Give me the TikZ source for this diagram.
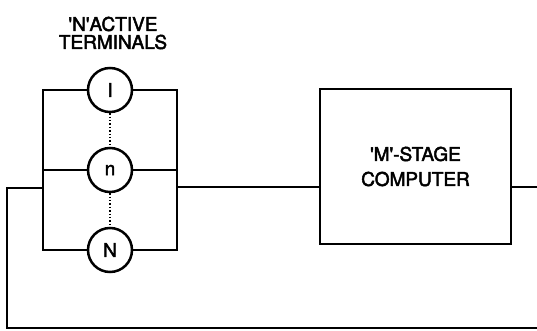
\documentclass[tikz,border=0pt]{standalone}
\usepackage{fontspec}
\setmainfont{TeX Gyre Heros}
\newfontfamily\medfont{TeX Gyre Heros}[FakeBold=2.5]
\newcommand{\sq}{\textquotesingle}
\begin{document}
\begin{tikzpicture}[x=1pt,y=-1pt,
  wire/.style={line width=2.5pt},
  term/.style={draw,circle,line width=2.5pt,minimum size=44pt,inner sep=0pt,font=\medfont\fontsize{19}{19}\selectfont},
  comp/.style={draw,rectangle,line width=2.5pt,minimum width=191pt,minimum height=155pt,align=center,font=\medfont\fontsize{19}{25}\selectfont},
  lbl/.style={align=center,font=\medfont\fontsize{19}{18}\selectfont}]
\useasboundingbox (0,0) rectangle (537,331);
\node[lbl] (title) at (113,33) {\sq N\sq ACTIVE\\TERMINALS};
\node[term] (c1) at (110,90) {I};
\node[term] (cn) at (110,170) {n};
\node[term] (cN) at (110,250) {N};
\node[comp] (box) at (415.5,166.5) {\sq M\sq-STAGE\\COMPUTER};
\coordinate (lt) at (43,90);
\coordinate (lm) at (43,170);
\coordinate (lb) at (43,250);
\coordinate (lj) at (43,188);
\coordinate (rt) at (177,90);
\coordinate (rm) at (177,170);
\coordinate (rb) at (177,250);
\coordinate (rj) at (177,187);
\coordinate (fb1) at (7,188);
\coordinate (fb2) at (7,328);
\coordinate (fb3) at (537,328);
\coordinate (out) at (537,187);
\draw[wire] (c1.west) -- (lt) -- (lb) -- (cN.west);
\draw[wire] (cn.west) -- (lm);
\draw[wire] (c1.east) -- (rt) -- (rb) -- (cN.east);
\draw[wire] (cn.east) -- (rm);
\draw[wire] (rj) -- (rj -| box.west);
\draw[wire] (box.east |- out) -- (out);
\draw[wire] (lj) -- (fb1) -- (fb2) -- (fb3);
\draw[line width=1.4pt,dotted] (c1.south) -- (cn.north);
\draw[line width=1.4pt,dotted] (cn.south) -- (cN.north);
\end{tikzpicture}
\end{document}
